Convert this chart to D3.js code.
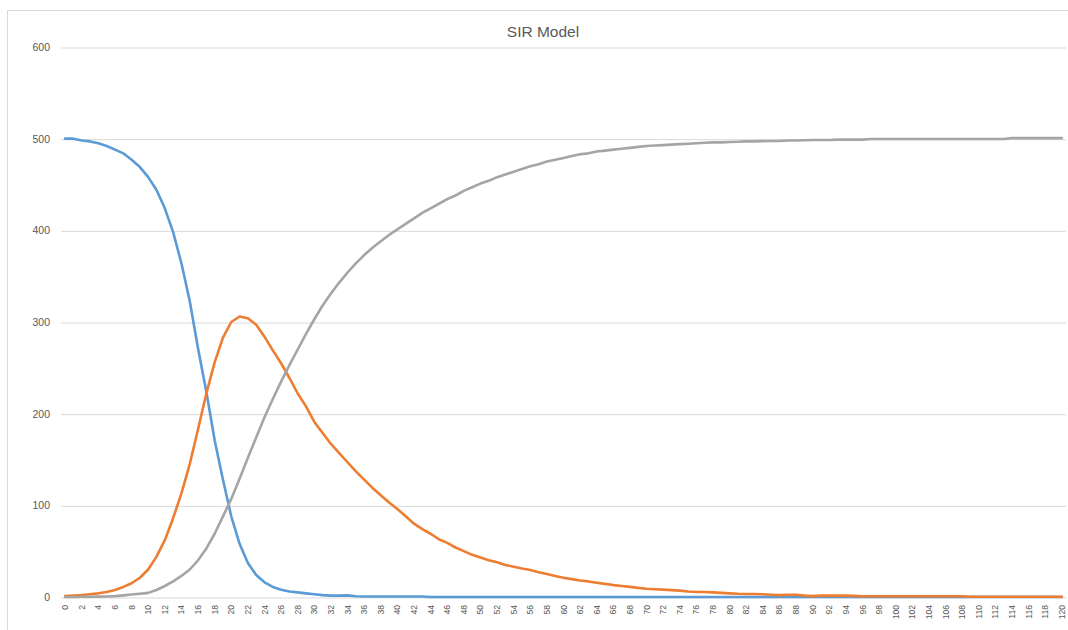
<!DOCTYPE html>
<html>
<head>
<meta charset="utf-8">
<script src="https://cdn.jsdelivr.net/npm/d3@7"></script>
<style>
  html, body { margin: 0; padding: 0; background: #fff; }
  svg { display: block; }
  text { font-family: "Liberation Sans", Arial, sans-serif; fill: #595959; }
</style>
</head>
<body>
<svg id="chart" width="1068" height="630"></svg>
<script>
const title = "SIR Model";
const days = d3.range(0, 121);
const yTicks = [0, 100, 200, 300, 400, 500, 600];
const xTickLabels = days.filter(d => d % 2 === 0);
const seriesNames = ["S", "I", "R"];
const seriesColors = ["#5B9BD5", "#ED7D31", "#A5A5A5"];

const susceptible = [
  500, 500, 498, 497, 495, 492, 488, 484, 477, 469,
  458, 444, 424, 398, 364, 323, 271, 224, 171, 128,
  88, 58, 37, 24, 16, 11, 8, 6, 5, 4,
  3, 2, 1.5, 1.5, 1.8, 0.8, 0.5, 0.5, 0.5, 0.5,
  0.5, 0.5, 0.5, 0.5, 0, 0, 0, 0, 0, 0,
  0, 0, 0, 0, 0, 0, 0, 0, 0, 0,
  0, 0, 0, 0, 0, 0, 0, 0, 0, 0,
  0, 0, 0, 0, 0, 0, 0, 0, 0, 0,
  0, 0, 0, 0, 0, 0, 0, 0, 0, 0,
  0, 0, 0, 0, 0, 0, 0, 0, 0, 0,
  0, 0, 0, 0, 0, 0, 0, 0, 0, 0,
  0, 0, 0, 0, 0, 0, 0, 0, 0, 0,
  0
];

const infected = [
  1, 1.5, 2, 3, 4, 5.5, 7.6, 11, 15, 21,
  30, 44, 62, 86, 113, 145, 183, 222, 256, 283,
  300, 306, 304, 297, 284, 269, 255, 239, 222, 208,
  191, 179, 167, 157, 147, 137, 128, 119, 111, 103,
  96, 88, 80, 74, 69, 63, 59, 54, 50, 46,
  43, 40, 38, 35, 33, 31, 29.5, 27, 25, 23,
  21, 19.5, 18, 17, 15.6, 14.3, 13, 12, 11, 10,
  9, 8.5, 8, 7.5, 7, 6, 5.5, 5.5, 5, 4.5,
  4, 3.5, 3.3, 3.3, 3, 2.5, 2, 2.5, 2.5, 1.5,
  1, 1.5, 1.5, 1.5, 1.5, 1.2, 0.8, 0.8, 0.8, 0.8,
  0.8, 0.8, 0.8, 0.8, 0.8, 0.8, 0.8, 0.8, 0.8, 0.2,
  0.2, 0.2, 0.2, 0.2, 0.2, 0.2, 0.2, 0.2, 0.2, 0.2,
  0.2
];

const recovered = [
  0, 0, 0.2, 0.3, 0.4, 0.6, 1, 1.8, 2.7, 3.5,
  4.5, 7.6, 12, 17, 23, 30, 40, 53, 69, 88,
  107, 129, 152, 174, 196, 216, 235, 253, 270, 287,
  303, 318, 331, 343, 354, 364, 373, 381, 388, 395,
  401, 407, 413, 419, 424, 429, 434, 438, 443, 447,
  451, 454, 458, 461, 464, 467, 470, 472, 475, 477,
  479, 481, 483, 484, 486, 487, 488, 489, 490, 491,
  492, 492.5, 493, 493.5, 494, 494.5, 495, 495.5, 496, 496,
  496.4, 496.7, 497, 497, 497.3, 497.5, 497.5, 498, 498, 498.3,
  498.5, 498.5, 498.5, 499, 499, 499, 499, 499.6, 499.6, 499.6,
  499.6, 499.6, 499.6, 499.6, 499.6, 499.6, 499.6, 499.6, 499.6, 499.6,
  499.6, 499.6, 499.6, 499.6, 500.6, 500.6, 500.6, 500.6, 500.6, 500.6,
  500.6
];

const seriesValues = [susceptible, infected, recovered];

const svg = d3.select("#chart");
const W = 1068, H = 630;
const plot = { left: 61, right: 1066, top: 47, bottom: 597 };

// chart border
svg.append("rect")
  .attr("x", 7.5).attr("y", 10.5)
  .attr("width", W + 10).attr("height", H + 10)
  .attr("fill", "#fff").attr("stroke", "#D9D9D9").attr("stroke-width", 1);

const x = d3.scaleBand().domain(days).range([plot.left, plot.right]).paddingInner(0).paddingOuter(0);
const xc = d => x(d) + x.bandwidth() / 2;
const y = d3.scaleLinear().domain([0, 600]).range([plot.bottom, plot.top]);

// gridlines
const grid = svg.append("g")
  .attr("transform", `translate(${plot.left},0)`)
  .call(d3.axisLeft(y).tickValues(yTicks).tickSize(-(plot.right - plot.left)).tickFormat(""));
grid.select(".domain").remove();
grid.selectAll("line").attr("stroke", "#D9D9D9").attr("stroke-width", 1)
  .attr("transform", "translate(0,0.5)");

// y labels
const yAxis = svg.append("g")
  .attr("transform", `translate(${plot.left},0)`)
  .call(d3.axisLeft(y).tickValues(yTicks).tickSize(0).tickPadding(11));
yAxis.select(".domain").remove();
yAxis.selectAll("text")
  .attr("font-size", "10.5px")
  .attr("font-family", "Liberation Sans, Arial, sans-serif")
  .attr("fill", "#595959");

// x labels
const xAxis = svg.append("g")
  .attr("transform", `translate(0,${plot.bottom})`)
  .call(d3.axisBottom(x).tickValues(xTickLabels).tickSize(0));
xAxis.select(".domain").remove();
xAxis.selectAll("text")
  .attr("font-size", "8.6px")
  .attr("font-family", "Liberation Sans, Arial, sans-serif")
  .attr("fill", "#595959")
  .attr("text-anchor", "end")
  .attr("dy", "0.35em")
  .attr("transform", "translate(0,8) rotate(-90)")
  .attr("x", 0).attr("y", 0);

// lines
const line = d3.line()
  .x((v, i) => xc(days[i]))
  .y(v => y(v))
  .curve(d3.curveLinear);

seriesValues.forEach((vals, k) => {
  svg.append("path")
    .datum(vals)
    .attr("fill", "none")
    .attr("stroke", seriesColors[k])
    .attr("stroke-width", 2.6)
    .attr("stroke-linejoin", "round")
    .attr("stroke-linecap", "round")
    .attr("d", line);
});

// title
svg.append("text")
  .attr("x", 543).attr("y", 37)
  .attr("text-anchor", "middle")
  .attr("font-size", "15.5px")
  .attr("fill", "#595959")
  .text(title);
</script>
</body>
</html>
